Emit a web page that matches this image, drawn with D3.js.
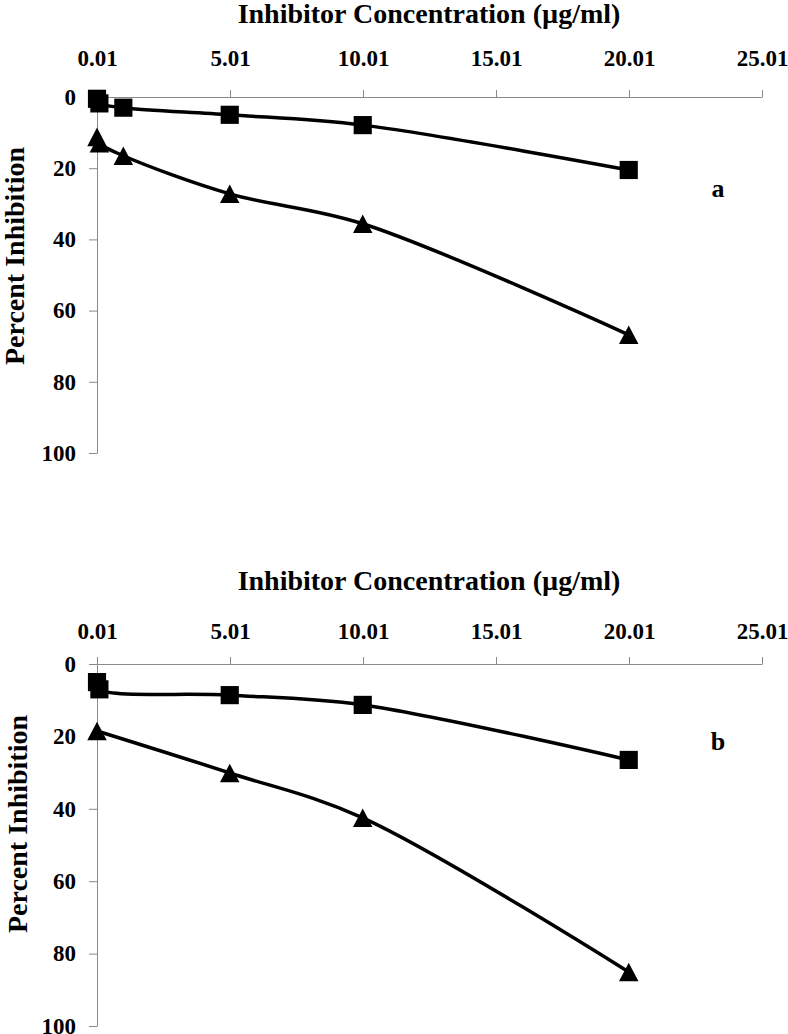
<!DOCTYPE html>
<html>
<head>
<meta charset="utf-8">
<script src="https://cdn.jsdelivr.net/npm/d3@7/dist/d3.min.js"></script>
<style>
  html, body { margin: 0; padding: 0; background: #fff; }
  svg { display: block; }
  text { font-family: "Liberation Serif", "Times New Roman", serif; font-weight: bold; fill: #000; }
</style>
</head>
<body>
<svg id="chart" width="788" height="1034"></svg>
<script>
// ---- data ----
const xTickValues = [0.01, 5.01, 10.01, 15.01, 20.01, 25.01];
const yTickValues = [0, 20, 40, 60, 80, 100];
const xTitle = "Inhibitor Concentration (µg/ml)";
const yTitle = "Percent Inhibition";

const concA = [0.01, 0.1, 1, 5, 10, 20];
const squaresA = [0.5, 1.8, 3.0, 5.0, 7.9, 20.5];
const trianglesA = [11.2, 13.0, 16.5, 27.2, 35.6, 66.8];

const concB = [0.01, 0.1, 5, 10, 20];
const squaresB = [5.0, 7.0, 8.6, 11.3, 26.5];
const concB2 = [0.01, 5, 10, 20];
const trianglesB = [18.5, 30.1, 42.5, 85.1];

// ---- layout ----
const svg = d3.select("#chart");
const panels = [
  { label: "a", top: 97, bottom: 453, titleY: 23, tickPad: 24, labelY: 197, yTitleX: 24, yTitleY: 256,
    series: [{ x: concA, y: squaresA, shape: "square" }, { x: concA, y: trianglesA, shape: "triangle" }] },
  { label: "b", top: 664, bottom: 1026, titleY: 590, tickPad: 18, labelY: 750, yTitleX: 27, yTitleY: 824,
    series: [{ x: concB, y: squaresB, shape: "square" }, { x: concB2, y: trianglesB, shape: "triangle" }] }
];

const left = 97, right = 762;
const x = d3.scaleLinear().domain([0.01, 25.01]).range([left, right]);

// Excel-style triangle: equal width and height
const excelTriangle = {
  draw(ctx, size) {
    const w = Math.sqrt(size), h = w * 0.95;
    ctx.moveTo(0, -h / 2);
    ctx.lineTo(w / 2, h / 2);
    ctx.lineTo(-w / 2, h / 2);
    ctx.closePath();
  }
};

panels.forEach(p => {
  const y = d3.scaleLinear().domain([0, 100]).range([p.top, p.bottom]);
  const g = svg.append("g");

  // x axis (top)
  const xa = g.append("g").attr("transform", `translate(0,${p.top})`)
    .call(d3.axisTop(x).tickValues(xTickValues).tickFormat(d3.format(".2f"))
      .tickSize(7).tickSizeOuter(0).tickPadding(p.tickPad));
  xa.selectAll("path, line").attr("stroke", "#898989");
  xa.selectAll("text").style("font-size", "23px").attr("fill", "#000");

  // y axis
  const ya = g.append("g").attr("transform", `translate(${left},0)`)
    .call(d3.axisLeft(y).tickValues(yTickValues).tickSize(8).tickSizeOuter(0).tickPadding(13));
  ya.selectAll("path, line").attr("stroke", "#898989");
  ya.selectAll("text").style("font-size", "23px").attr("fill", "#000");

  // titles
  g.append("text").attr("x", 429).attr("y", p.titleY).attr("text-anchor", "middle")
    .style("font-size", "28px").text(xTitle);
  g.append("text").attr("transform", `translate(${p.yTitleX},${p.yTitleY}) rotate(-90)`)
    .attr("text-anchor", "middle").style("font-size", "28px").text(yTitle);
  g.append("text").attr("x", 718).attr("y", p.labelY).attr("text-anchor", "middle")
    .style("font-size", "26px").text(p.label);

  const line = d3.line().curve(d3.curveCatmullRom.alpha(0.5))
    .x(d => x(d[0])).y(d => y(d[1]));

  p.series.forEach(s => {
    const pts = s.x.map((v, i) => [v, s.y[i]]);
    g.append("path").datum(pts).attr("d", line)
      .attr("fill", "none").attr("stroke", "#000").attr("stroke-width", 3.5);
    const sym = s.shape === "square" ? d3.symbolSquare : excelTriangle;
    const size = s.shape === "square" ? 330 : 380;
    g.selectAll(null).data(pts).enter().append("path")
      .attr("d", d3.symbol().type(sym).size(size))
      .attr("transform", d => `translate(${x(d[0])},${y(d[1])})`)
      .attr("fill", "#000");
  });
});
</script>
</body>
</html>
